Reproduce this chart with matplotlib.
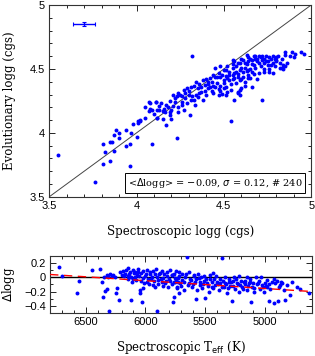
import numpy as np
import matplotlib
matplotlib.use("Agg")
import matplotlib.pyplot as plt
from matplotlib.ticker import MultipleLocator

# top panel: spectroscopic vs evolutionary logg
spec_logg = [
    3.55, 3.76, 3.81, 3.82, 3.81, 3.85, 3.87, 3.85, 3.86, 3.87, 3.88, 3.90, 3.90, 3.94, 3.94, 3.96, 3.96,
    3.97, 3.98, 4.00, 4.01, 4.02, 4.01, 4.02, 4.05, 4.07, 4.08, 4.09, 4.09, 4.11, 4.12, 4.12, 4.05,
    4.32, 4.63, 4.64, 4.68, 4.68, 4.70, 4.71, 4.72, 4.73, 4.74, 4.76, 4.78, 4.79, 4.80, 4.81, 4.85, 4.85,
    4.89, 4.90, 4.94, 4.96,
    4.55, 4.56, 4.58, 4.61, 4.62, 4.64, 4.66, 4.67, 4.69, 4.73, 4.75, 4.77, 4.78, 4.80, 4.82, 4.84, 4.85, 4.83,
    4.45, 4.48, 4.51, 4.53, 4.55, 4.57, 4.59, 4.60, 4.63, 4.64, 4.66, 4.73, 4.76, 4.78, 4.84,
    4.42, 4.44, 4.46, 4.48, 4.50, 4.51, 4.52, 4.55, 4.56, 4.58, 4.595, 4.61, 4.62, 4.64, 4.65, 4.34, 4.41, 4.38,
    4.27, 4.29, 4.31, 4.33, 4.35, 4.37, 4.39, 4.41, 4.42, 4.44, 4.47, 4.48, 4.50, 4.52, 4.54, 4.58, 4.59, 4.60,
    4.66, 4.51, 4.49, 4.59,
    4.24, 4.25, 4.26, 4.28, 4.30, 4.31, 4.32, 4.34, 4.36, 4.26, 4.21, 4.22, 4.23, 4.56, 4.72, 4.58,
    4.07, 4.11, 4.14, 4.08, 4.16, 4.18, 4.20, 4.21, 4.24, 4.27, 4.335, 4.305, 4.13, 4.15,
    4.12, 4.15, 4.165, 4.19, 4.19, 4.20, 4.17, 4.54,
    4.23,
    4.10, 4.13, 4.17, 4.19, 4.22, 4.24, 4.26, 4.28, 4.29, 4.30, 4.33, 4.35, 4.36, 4.37, 4.38, 4.39, 4.40,
    4.40, 4.41, 4.43, 4.43, 4.44, 4.45, 4.45, 4.46, 4.47, 4.47, 4.48, 4.49, 4.50, 4.50, 4.51, 4.52, 4.53,
    4.53, 4.54, 4.55, 4.55, 4.56, 4.57, 4.57, 4.58, 4.59, 4.60, 4.60, 4.61, 4.62, 4.62, 4.63, 4.64, 4.65,
    4.65, 4.66, 4.67, 4.67, 4.68, 4.69, 4.70, 4.70, 4.71, 4.72, 4.73, 4.74, 4.75, 4.76, 4.77, 4.79, 4.80,
    4.82, 4.83, 4.86, 4.88, 4.91, 4.69,
]
evol_logg = [
    3.83, 3.62, 3.91, 3.85, 3.76, 3.78, 3.86, 3.93, 3.93, 3.98, 4.02, 4.00, 3.96, 3.90, 4.02, 3.91, 3.74,
    4.00, 4.07, 3.97, 4.09, 4.10, 4.08, 4.09, 4.20, 4.17, 4.23, 4.18, 3.91, 4.24, 4.12, 4.18, 4.12,
    4.60, 4.61, 4.59, 4.60, 4.58, 4.60, 4.59, 4.60, 4.58, 4.60, 4.59, 4.60, 4.58, 4.59, 4.60, 4.63, 4.61,
    4.63, 4.59, 4.63, 4.62,
    4.57, 4.56, 4.545, 4.57, 4.545, 4.56, 4.57, 4.53, 4.56, 4.545, 4.56, 4.53, 4.545, 4.56, 4.55, 4.53, 4.52, 4.505,
    4.505, 4.52, 4.49, 4.48, 4.505, 4.48, 4.49, 4.505, 4.485, 4.49, 4.48, 4.48, 4.48, 4.465, 4.50,
    4.43, 4.455, 4.435, 4.44, 4.41, 4.445, 4.43, 4.45, 4.43, 4.44, 4.41, 4.435, 4.40, 4.45, 4.43, 4.40, 4.40, 4.41,
    4.335, 4.35, 4.36, 4.37, 4.35, 4.36, 4.375, 4.35, 4.36, 4.37, 4.34, 4.33, 4.35, 4.32, 4.335, 4.32, 4.335, 4.35,
    4.36, 4.30, 4.305, 4.30,
    4.31, 4.30, 4.285, 4.27, 4.30, 4.26, 4.285, 4.30, 4.31, 4.24, 4.30, 4.27, 4.285, 4.26, 4.26, 4.31,
    4.24, 4.24, 4.23, 4.19, 4.19, 4.20, 4.18, 4.21, 4.20, 4.18, 4.22, 4.14, 4.18, 4.17,
    4.12, 4.11, 4.16, 4.16, 4.14, 4.11, 4.06, 4.09,
    3.96,
    4.15, 4.21, 4.22, 4.25, 4.24, 4.16, 4.22, 4.31, 4.23, 4.33, 4.26, 4.28, 4.38, 4.32, 4.26, 4.33, 4.30,
    4.42, 4.38, 4.33, 4.40, 4.31, 4.36, 4.44, 4.39, 4.47, 4.30, 4.37, 4.45, 4.39, 4.49, 4.36, 4.52, 4.41,
    4.45, 4.38, 4.54, 4.42, 4.47, 4.39, 4.52, 4.46, 4.55, 4.42, 4.58, 4.48, 4.51, 4.37, 4.54, 4.43, 4.58,
    4.50, 4.54, 4.46, 4.60, 4.51, 4.58, 4.47, 4.55, 4.52, 4.57, 4.50, 4.56, 4.53, 4.50, 4.58, 4.52, 4.57,
    4.51, 4.58, 4.55, 4.60, 4.62, 4.42,
]

# bottom panel: residuals against Teff
teff = [
    6722, 6699, 6576, 6554, 6450, 6380, 6363, 6358, 6338, 6324, 6302, 6346, 6324, 6310, 6296, 6282, 6268,
    6254, 6240, 6246, 6218, 6212, 6198, 6184, 6170, 6150, 6142, 6128, 6122, 6114, 6106, 6094, 6086, 6072,
    6058, 6044, 6044, 6030, 6016, 6016, 6002, 5988, 5974, 5960, 5946, 5932, 5918, 5904, 5904, 5890, 5876,
    5862, 5848, 5834, 5820, 5806, 5792, 5778, 5764, 5750, 5736, 5722, 5730,
    5778, 5764, 5750, 5770, 5736, 5722, 5708, 5694, 5680, 5666, 5652, 5638, 5624, 5610, 5596, 5582, 5574,
    5568, 5554, 5540, 5526, 5512, 5498, 5484, 5470, 5456, 5442, 5434, 5414, 5400, 5386, 5372, 5358, 5344,
    5330, 5316, 5302, 5288, 5274, 5266, 5254, 5246, 5232, 5218, 5204, 5190, 5176, 5162, 5148, 5134, 5120,
    5112, 5106, 5092, 5070, 5058, 5042, 5022, 5008, 4994, 4980, 4966, 4952, 4924, 4910, 4896, 4888, 4868,
    4854, 4840, 4826, 4784, 4728, 4630,
    6180, 6160, 6150, 6135, 6120, 6100, 6090, 6080, 6065, 6050, 6040, 6035, 6020, 6010, 5995, 5985, 5970,
    5965, 5955, 5940, 5930, 5920, 5910, 5895, 5885, 5870, 5860, 5850, 5840, 5825, 5815, 5800, 5790, 5780,
    5760, 5745, 5740, 5725, 5715, 5700, 5690, 5675, 5660, 5645, 5630, 5615, 5600, 5590, 5575, 5560, 5545,
    5535, 5520, 5505, 5490, 5475, 5460, 5445, 5430, 5420, 5405, 5390, 5375, 5360, 5345, 5335, 5320, 5305,
    5295, 5280, 5262, 5240, 5225, 5210, 5195, 5180, 5165, 5150, 5140, 5125, 5100, 5085, 5060, 5045, 5030,
    5015, 4990, 4975, 4960, 4940, 4920, 4880, 4860, 4810, 4770, 4700,
]
dlogg = [
    0.14, 0.02, -0.22, -0.05, 0.10, 0.12, -0.06, -0.28, -0.19, -0.17, -0.47, 0.01, 0.03, 0.01, 0.05, 0.02, 0.03,
    0.01, -0.15, -0.22, -0.32, 0.07, 0.03, 0.09, 0.05, 0.02, 0.13, 0.07, -0.32, -0.06, 0.10, 0.06, 0.01, 0.03,
    0.07, -0.22, -0.18, -0.34, -0.15, -0.01, 0.02, -0.06, -0.03, 0.05, 0.01, -0.11, -0.14, 0.01, -0.47, -0.04, 0.06,
    -0.06, -0.01, -0.08, 0.02, -0.13, -0.05, 0.03, -0.27, -0.07, -0.15, -0.22, -0.01,
    0.03, -0.06, -0.01, -0.34, -0.13, 0.07, -0.08, -0.04, -0.18, 0.01, 0.28, -0.08, -0.03, -0.13, 0.02, -0.06, -0.31,
    -0.18, -0.01, -0.11, -0.15, -0.05, -0.29, -0.08, -0.20, -0.03, -0.13, 0.06, -0.11, -0.06, -0.18, -0.08, 0.27, -0.14,
    -0.08, -0.22, -0.06, -0.12, -0.33, -0.05, 0.00, -0.17, -0.08, -0.20, -0.11, -0.13, -0.07, -0.05, -0.18, -0.08, -0.06,
    -0.34, -0.13, -0.20, 0.01, -0.08, -0.17, -0.11, -0.20, -0.08, -0.14, -0.33, -0.17, -0.36, -0.08, -0.05, -0.33, -0.11,
    -0.08, -0.18, -0.32, -0.25, -0.14, -0.22,
    0.02, 0.10, -0.03, 0.04, 0.01, -0.02, 0.08, -0.04, 0.11, 0.02, -0.05, 0.06, 0.09, -0.08, 0.04, 0.10, -0.10,
    0.07, -0.02, 0.09, -0.05, 0.04, 0.11, -0.09, 0.05, -0.02, 0.09, -0.12, 0.04, -0.05, 0.07, -0.02, 0.10, -0.10,
    0.05, -0.03, 0.09, -0.06, 0.02, -0.12, 0.05, -0.07, 0.04, -0.11, 0.07, -0.04, -0.09, 0.03, -0.02, 0.05, -0.07,
    0.01, -0.10, 0.02, -0.03, -0.12, 0.03, -0.06, -0.15, -0.02, 0.02, -0.10, -0.03, -0.13, -0.05, 0.01, -0.10, -0.15,
    -0.02, -0.07, -0.12, -0.03, -0.09, 0.02, -0.05, -0.16, -0.10, 0.01, -0.12, -0.03, -0.08, -0.15, -0.10, -0.05, 0.00,
    -0.14, -0.12, -0.04, -0.10, -0.07, -0.03, -0.14, -0.06, -0.11, -0.06, -0.17,
]

# trend line (dashed red) end points
trend_teff = [6800, 4600]
trend_dlogg = [0.04, -0.20]

# typical error bar
err_x, err_y = 3.70, 4.85
err_dx, err_dy = 0.065, 0.015

stats_text = r"<$\Delta$logg> = $-$0.09, $\sigma$ = 0.12, # 240"

serif = "DejaVu Serif"
sans = "Liberation Sans"

fig = plt.figure(figsize=(3.15, 3.56), dpi=100)
ax1 = fig.add_axes([0.156, 0.447, 0.832, 0.539])
ax2 = fig.add_axes([0.159, 0.121, 0.832, 0.160])

blue = "#0000ff"

ax1.plot([3.5, 5.0], [3.5, 5.0], color="#444444", lw=0.7, zorder=1)
ax1.scatter(spec_logg, evol_logg, s=8, color=blue, linewidths=0, zorder=3)
ax1.errorbar([err_x], [err_y], xerr=[err_dx], yerr=[err_dy], color=blue,
             lw=1.0, capsize=1.2, capthick=0.8, fmt="none")
ax1.set_xlim(3.5, 5.0)
ax1.set_ylim(3.5, 5.0)
ax1.xaxis.set_minor_locator(MultipleLocator(0.1))
ax1.yaxis.set_minor_locator(MultipleLocator(0.1))
ax1.set_xticks([3.5, 4.0, 4.5, 5.0], ["3.5", "4", "4.5", "5"])
ax1.set_yticks([3.5, 4.0, 4.5, 5.0], ["3.5", "4", "4.5", "5"])
ax1.set_xlabel("Spectroscopic logg (cgs)", family=serif, fontsize=8.5, va="center")
ax1.set_ylabel("Evolutionary logg (cgs)", family=serif, fontsize=8.5, va="center")
ax1.xaxis.set_label_coords(0.5, -0.182)
ax1.yaxis.set_label_coords(-0.153, 0.5)
ax1.text(0.966, 0.074, stats_text, transform=ax1.transAxes, ha="right", va="center",
         family=serif, fontsize=7.0,
         bbox=dict(boxstyle="square,pad=0.3", fc="white", ec="black", lw=0.7))

ax2.axhline(0, color="black", lw=1.0, zorder=2)
ax2.scatter(teff, dlogg, s=8, color=blue, linewidths=0, zorder=3)
ax2.plot(trend_teff, trend_dlogg, color="red", lw=1.0, ls=(0, (6, 4)), zorder=4)
ax2.set_xlim(6800, 4600)
ax2.set_ylim(-0.5, 0.3)
ax2.xaxis.set_major_locator(MultipleLocator(500))
ax2.xaxis.set_minor_locator(MultipleLocator(100))
ax2.yaxis.set_minor_locator(MultipleLocator(0.1))
ax2.set_yticks([-0.4, -0.2, 0.0, 0.2], ["\u22120.4", "\u22120.2", "0", "0.2"])
ax2.set_xlabel(r"Spectroscopic T$_{\rm eff}$ (K)", family=serif, fontsize=8.5, va="center")
ax2.set_ylabel(r"$\Delta$logg", family=serif, fontsize=8.5, va="center")
ax2.xaxis.set_label_coords(0.5, -0.60)
ax2.yaxis.set_label_coords(-0.158, 0.5)

for ax in (ax1, ax2):
    ax.tick_params(which="both", direction="in", top=True, right=True, width=0.6, colors="black")
    ax.tick_params(which="major", length=4, labelsize=8, pad=3)
    ax.tick_params(which="minor", length=2)
    for lab in ax.get_xticklabels() + ax.get_yticklabels():
        lab.set_family(sans)
    for sp in ax.spines.values():
        sp.set_linewidth(0.8)
        sp.set_color("#333333")

fig.savefig("out.png", dpi=100)
